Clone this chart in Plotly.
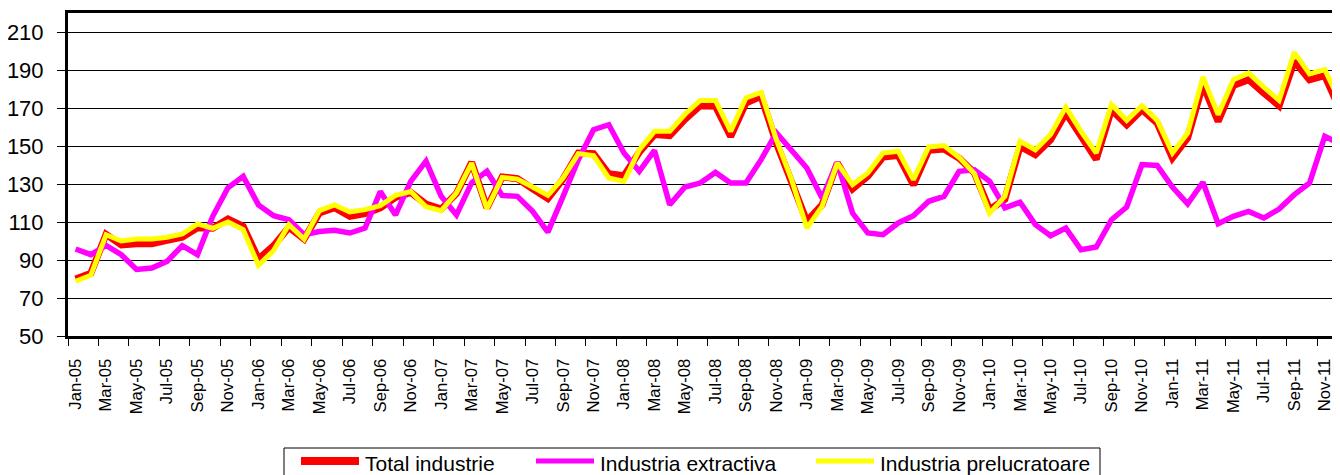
import plotly.graph_objects as go

month_abbr = ["Jan", "Feb", "Mar", "Apr", "May", "Jun", "Jul", "Aug", "Sep", "Oct", "Nov", "Dec"]
years = ["05", "06", "07", "08", "09", "10", "11"]
months = [f"{m}-{y}" for y in years for m in month_abbr]

total_industrie = [
    80, 83, 103.5, 98, 98.6, 98.6, 100.4, 102, 107, 106.7, 111.6, 107.7,
    90.5, 97.5, 107.2, 101, 114.7, 117.5, 113, 114.4, 117.4, 123, 125.6, 119.5,
    116.8, 125, 141.4, 117.4, 133.7, 132.8, 127.5, 122.3, 132.6, 146.3, 146, 135.4,
    134.4, 146.7, 156, 155.5, 164, 171.2, 170.9, 155, 172.6, 176.1, 151.6, 131.4,
    110.4, 119, 141, 127.4, 134, 144.2, 145, 129.6, 147.7, 148.4, 143.5, 135.8,
    116.5, 122, 149.8, 145.4, 153.3, 167.4, 156, 143, 169.1, 161.2, 169.1, 162.1,
    143.7, 154.2, 182.3, 163, 181.8, 184.9, 177.9, 171.2, 194.6, 184.9, 187, 169.1,
]

industria_extractiva = [
    95.8, 92.8, 97.7, 92.8, 85, 85.8, 89.3, 97.5, 92.8, 113, 128, 134,
    119, 113.3, 111.2, 103.3, 105, 105.6, 104.2, 106.8, 126, 113.7, 131.4, 142,
    123.5, 113.7, 130.7, 136.7, 124, 123.5, 115.6, 104.7, 123.5, 142.8, 158.6, 161.2,
    146.3, 136.7, 147.7, 119.1, 128.4, 130.5, 136.1, 130.5, 130.5, 142.8, 157, 147.2,
    138.4, 122.6, 141.4, 114.7, 104.2, 103.3, 109.5, 113.3, 120.9, 123.5, 136.7, 137.5,
    131.4, 117.4, 120.4, 108.6, 102.8, 106.8, 95.4, 96.8, 111.2, 117.9, 140.2, 139.8,
    128.4, 119.5, 130.9, 109.1, 113, 115.6, 112.1, 116.8, 124.4, 130.5, 155.1, 151.2,
]

industria_prelucratoare = [
    78.8, 82, 103.3, 100, 101, 101, 102, 103.7, 109, 106.7, 110, 106,
    87.2, 95, 108.6, 101, 116, 119, 115.3, 116.5, 118.6, 124, 126, 118,
    116, 125.3, 141, 117, 133.5, 132.6, 128.4, 124, 133.2, 146, 145, 133.2,
    131.4, 148, 157.7, 157.7, 166.7, 174, 174, 157.7, 175.3, 178.2, 153.3, 132.3,
    106.8, 118.2, 141, 129.6, 135.8, 146.3, 147.2, 132.3, 149.5, 150.2, 144, 135.5,
    114.7, 123.5, 152.5, 148, 156, 170.5, 157.7, 146.3, 171.8, 163.5, 171.2, 163.5,
    146.3, 156.8, 186.3, 166.5, 184.9, 188.4, 181, 174, 199.3, 188, 190.2, 173.5,
]

y_ticks = [50, 70, 90, 110, 130, 150, 170, 190, 210]

series_names = ["Total industrie", "Industria extractiva", "Industria prelucratoare"]
series_colors = ["#FF0000", "#FF00FF", "#FFFF00"]
series_widths = [7, 5.5, 5]
series_values = [total_industrie, industria_extractiva, industria_prelucratoare]

x_idx = list(range(len(months)))
FONT = "Liberation Sans, Arial, sans-serif"

# page body has an 8px default margin; the figure is sized so that it fills the window
OFF = 8
FIG_W, FIG_H = 1340 - OFF, 475 - OFF
PLOT_L, PLOT_T, PLOT_B = 68, 13, 336          # screen pixels of plot area edges
PLOT_W, PLOT_H = 1340 - PLOT_L, PLOT_B - PLOT_T


def px(sx):
    return (sx - PLOT_L) / PLOT_W


def py(sy):
    return (PLOT_B - sy) / PLOT_H


fig = go.Figure()
for name, vals, col, w in zip(series_names, series_values, series_colors, series_widths):
    fig.add_trace(go.Scatter(x=x_idx, y=vals, mode="lines", name=name,
                             line=dict(color=col, width=w), showlegend=False))

# legend (drawn as layout items, in the reference's style)
shapes = [dict(type="rect", xref="paper", yref="paper", x0=px(284), x1=px(1100),
               y0=py(448), y1=py(490), line=dict(color="black", width=1),
               fillcolor="rgba(0,0,0,0)", layer="above")]
legend_sample_x = [301, 536, 816]
legend_sample_w = [8, 5, 5]
annotations = []
for name, col, sx, lw in zip(series_names, series_colors, legend_sample_x, legend_sample_w):
    shapes.append(dict(type="line", xref="paper", yref="paper", x0=px(sx), x1=px(sx + 58),
                       y0=py(461), y1=py(461), line=dict(color=col, width=lw)))
    annotations.append(dict(text=name, xref="paper", yref="paper", x=px(sx + 62), y=py(463),
                            xanchor="left", yanchor="middle", showarrow=False,
                            font=dict(family=FONT, size=21, color="black")))

fig.update_layout(
    width=FIG_W, height=FIG_H,
    margin=dict(l=PLOT_L - OFF, r=0, t=PLOT_T - OFF, b=FIG_H - (PLOT_B - OFF), autoexpand=False),
    paper_bgcolor="white", plot_bgcolor="white",
    font=dict(family=FONT, color="black"),
    showlegend=False,
    shapes=shapes, annotations=annotations,
    xaxis=dict(
        range=[-0.5, 83.0], automargin=False,
        tickmode="array", tickvals=x_idx[::2], ticktext=months[::2],
        tickangle=-90, tickfont=dict(family=FONT, size=16.7, color="black"),
        ticks="outside", ticklen=7, tickcolor="rgba(0,0,0,0)",
        ticklabelstandoff=6,
        minor=dict(tickmode="linear", tick0=-0.5, dtick=2, ticks="outside",
                   ticklen=7, tickwidth=1, tickcolor="black", showgrid=False),
        showline=True, linecolor="black", linewidth=3, mirror=True,
        showgrid=False, zeroline=False,
    ),
    yaxis=dict(
        range=[50, 220], automargin=False,
        tickmode="array", tickvals=y_ticks, ticktext=[str(v) for v in y_ticks],
        tickfont=dict(family=FONT, size=22, color="black"),
        ticks="outside", ticklen=8, tickwidth=1, tickcolor="black",
        ticklabelstandoff=9,
        showline=True, linecolor="black", linewidth=3,
        showgrid=True, gridcolor="black", gridwidth=1,
        zeroline=False,
    ),
)

fig.write_html("out.html")
